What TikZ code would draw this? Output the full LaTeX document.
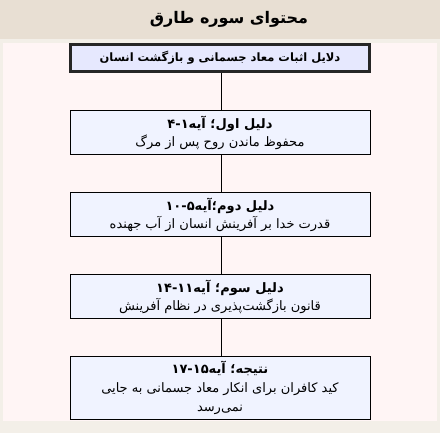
\documentclass[tikz,border=0pt]{standalone}
\usepackage{fontspec}
\newfontfamily\farsi[Script=Arabic]{DejaVu Sans}
\TeXXeTstate=1
\newcommand{\fa}[1]{{\farsi\beginR #1\endR}}

\definecolor{framegray}{RGB}{243,239,232}
\definecolor{titleband}{RGB}{232,223,211}
\definecolor{pinkbg}{RGB}{255,245,245}
\definecolor{headfill}{RGB}{230,232,254}
\definecolor{boxfill}{RGB}{240,243,255}

\tikzset{
  dalilbox/.style={draw=black, line width=1pt, fill=boxfill, minimum width=300pt,
    minimum height=44pt, inner sep=0pt, align=center,
    font=\fontsize{13}{18}\selectfont},
  headbox/.style={draw=black!85, line width=3pt, fill=headfill, minimum width=299pt,
    minimum height=27pt, inner sep=0pt, font=\fontsize{11.5}{14}\selectfont},
  link/.style={draw=black, line width=1.2pt}
}

\begin{document}
\begin{tikzpicture}[x=1pt,y=-1pt]
    \useasboundingbox (0,0) rectangle (440,433);
    \fill[framegray] (0,0) rectangle (440,433);
    \fill[titleband] (0,0) rectangle (440,39);
    \fill[pinkbg] (3,43) rectangle (437,421);

    \node[font=\fontsize{16}{20}\selectfont] (title) at (229,19)
        {\fa{\bfseries محتوای سوره طارق}};

    \node[headbox] (head) at (220,58)
        {\fa{\bfseries دلایل اثبات معاد جسمانی و بازگشت انسان}};

    \node[dalilbox] (b1) at (220,132.5)
        {\fa{\bfseries دلیل اول؛ آیه۱\kern0pt-\kern0pt۴}\\
         \fa{محفوظ ماندن روح پس از مرگ}};
    \node[dalilbox] (b2) at (220,214.5)
        {\fa{\bfseries دلیل دوم؛آیه۵\kern0pt-\kern0pt۱۰}\\
         \fa{قدرت خدا بر آفرینش انسان از آب جهنده}};
    \node[dalilbox] (b3) at (220,296.5)
        {\fa{\bfseries دلیل سوم؛ آیه۱۱\kern0pt-\kern0pt۱۴}\\
         \fa{قانون بازگشت‌پذیری در نظام آفرینش}};
    \node[dalilbox, minimum height=63pt, font=\fontsize{13}{19}\selectfont] (b4) at (220,388)
        {\fa{\bfseries نتیجه؛ آیه۱۵\kern0pt-\kern0pt۱۷}\\
         \fa{کید کافران برای انکار معاد جسمانی به جایی}\\
         \fa{نمی‌رسد}};

    \foreach \a/\b in {head/b1,b1/b2,b2/b3,b3/b4}
        \draw[link] ([xshift=1.5pt]\a.south) -- ([xshift=1.5pt]\b.north);
\end{tikzpicture}
\end{document}
